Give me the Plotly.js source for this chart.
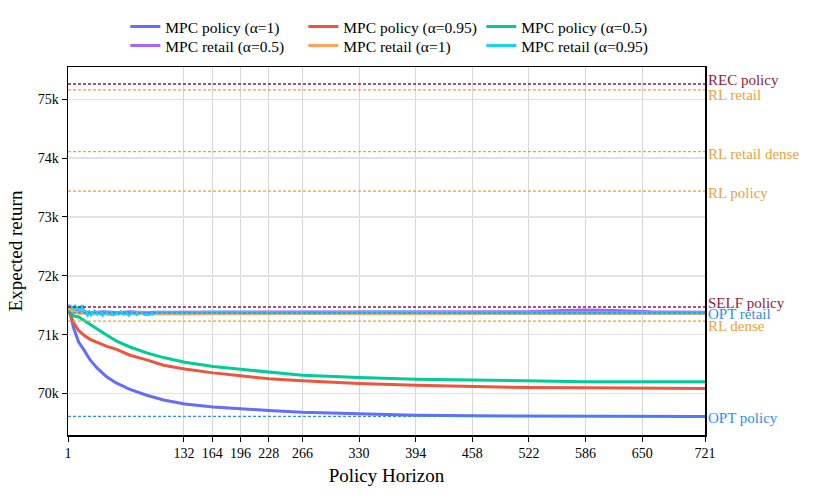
<!DOCTYPE html>
<html>
<head>
<meta charset="utf-8">
<script src="https://cdn.plot.ly/plotly-3.0.1.min.js"></script>
<style>
  html, body { margin: 0; padding: 0; background: #fff; }
  #chart { width: 817px; height: 504px; }
</style>
</head>
<body>
<div id="chart"></div>
<script>
// ---------- data ----------
const xTicks = [1, 132, 164, 196, 228, 266, 330, 394, 458, 522, 586, 650, 721];

// MPC policy curves share one horizon grid
const policyX = [1, 4, 7, 13, 19, 26, 34, 45, 56, 71, 90, 109, 133, 165, 196, 210, 228, 266, 330, 394, 458, 522, 586, 650, 721];
const policyA1 = [71450, 71330, 71130, 70875, 70740, 70570, 70430, 70280, 70175, 70070, 69970, 69890, 69820, 69770, 69740, 69725, 69710, 69680, 69650, 69630, 69620, 69615, 69610, 69610, 69610];
const policyA095 = [71450, 71330, 71210, 71070, 70990, 70920, 70865, 70800, 70750, 70650, 70570, 70480, 70415, 70350, 70300, 70280, 70250, 70215, 70170, 70140, 70120, 70100, 70095, 70090, 70085];
const policyA05 = [71450, 71380, 71320, 71300, 71240, 71170, 71100, 70990, 70890, 70790, 70690, 70610, 70530, 70460, 70410, 70390, 70360, 70310, 70270, 70240, 70230, 70215, 70200, 70200, 70200];

// MPC retail curves
const retailX = [1, 5, 10, 15, 20, 30, 40, 50, 60, 70, 80, 90, 100, 130, 170, 220, 280, 350, 420, 480, 520, 560, 586, 620, 660, 721];
const retailA05 = [71470, 71420, 71400, 71380, 71390, 71370, 71390, 71380, 71370, 71390, 71380, 71370, 71380, 71380, 71380, 71390, 71390, 71385, 71380, 71380, 71390, 71410, 71420, 71410, 71390, 71380];
const retailA1 = [71460, 71410, 71380, 71360, 71370, 71350, 71360, 71340, 71360, 71350, 71370, 71340, 71360, 71350, 71360, 71360, 71360, 71365, 71360, 71365, 71360, 71360, 71365, 71360, 71360, 71360];

const retail095X = [1, 3, 5, 7, 9, 11, 13, 15, 17, 19, 21, 23, 25, 27, 29, 31, 34, 37, 40, 43, 46, 49, 52, 55, 58, 61, 64, 67, 70, 73, 76, 79, 82, 85, 88, 91, 94, 97, 100, 130, 170, 220, 280, 350, 420, 500, 586, 650, 721];
const retailA095 = [71500, 71490, 71470, 71450, 71480, 71440, 71460, 71420, 71500, 71400, 71360, 71330, 71380, 71340, 71370, 71400, 71350, 71380, 71330, 71390, 71360, 71380, 71340, 71370, 71350, 71390, 71350, 71370, 71330, 71380, 71360, 71340, 71370, 71380, 71350, 71340, 71370, 71350, 71380, 71370, 71380, 71370, 71370, 71380, 71370, 71370, 71370, 71370, 71370];

// horizontal reference results
const refNames = ["REC policy", "RL retail", "RL retail dense", "RL policy", "SELF policy", "OPT retail", "RL dense", "OPT policy"];
const refValues = [75260, 75160, 74110, 73440, 71470, 71370, 71230, 69610];

// ---------- styles ----------
const FONT = "Liberation Serif, Times New Roman, serif";
const MAROON = "#8d1c40", ORANGE = "#eba23a", OPTBLUE = "#2f8cf2";
const refColors = [MAROON, ORANGE, ORANGE, ORANGE, MAROON, OPTBLUE, ORANGE, OPTBLUE];
const labelShift = [4, -5, -2, -2, 4, -1, -5, -2];

// first row of the legend holds the policy runs, second row the retail runs
const curve = (name, x, y, color, legend) => ({
  type: "scatter", mode: "lines", name, x, y, legend,
  line: { color, width: 3 },
  hoverinfo: "skip"
});

const traces = [
  curve("MPC policy (α=1)", policyX, policyA1, "#636efa", "legend"),
  curve("MPC policy (α=0.95)", policyX, policyA095, "#ef553b", "legend"),
  curve("MPC policy (α=0.5)", policyX, policyA05, "#00cc96", "legend"),
  curve("MPC retail (α=0.5)", retailX, retailA05, "#ab63fa", "legend2"),
  curve("MPC retail (α=1)", retailX, retailA1, "#ffa15a", "legend2"),
  curve("MPC retail (α=0.95)", retail095X, retailA095, "#19d3f3", "legend2")
];

// dashed reference lines across the full horizon
refValues.forEach((v, i) => {
  traces.push({
    type: "scatter", mode: "lines", showlegend: false, hoverinfo: "skip",
    x: [xTicks[0], xTicks[xTicks.length - 1]], y: [v, v],
    line: { color: refColors[i], width: 1.3, dash: "3px,2px" }
  });
});

const annotations = refNames.map((name, i) => ({
  xref: "paper", yref: "y", x: 1, y: refValues[i],
  xanchor: "left", yanchor: "middle", xshift: 1, yshift: labelShift[i],
  text: name, showarrow: false,
  font: { family: FONT, size: 15, color: refColors[i] }
}));

const legendRow = (y) => ({
  orientation: "h", x: 0.09, xanchor: "left", y, yanchor: "middle",
  entrywidth: 133, font: { family: FONT, size: 15.5 },
  bgcolor: "rgba(0,0,0,0)", borderwidth: 0
});

const layout = {
  width: 817, height: 504,
  margin: { l: 68, r: 112, t: 67, b: 69, autoexpand: false },
  paper_bgcolor: "#fff", plot_bgcolor: "#fff",
  font: { family: FONT, size: 14, color: "#000" },
  showlegend: true,
  legend: legendRow(1.109),
  legend2: legendRow(1.057),
  xaxis: {
    range: [1, 721], tickmode: "array", tickvals: xTicks,
    showgrid: true, gridcolor: "#d6d6d6", gridwidth: 1,
    zeroline: false, showline: true, linecolor: "#000", linewidth: 1.5, mirror: true,
    ticks: "outside", ticklen: 5, tickcolor: "#000",
    tickfont: { family: FONT, size: 14 },
    title: { text: "Policy Horizon", font: { family: FONT, size: 19 }, standoff: 8 }
  },
  yaxis: {
    range: [69294, 75549], dtick: 1000, tick0: 70000, tickformat: "~s",
    showgrid: true, gridcolor: "#e2e2e2", gridwidth: 1.5,
    zeroline: false, showline: true, linecolor: "#000", linewidth: 1.5, mirror: true,
    ticks: "outside", ticklen: 5, tickcolor: "#000",
    tickfont: { family: FONT, size: 14 },
    title: { text: "Expected return", font: { family: FONT, size: 19 }, standoff: 10 }
  },
  annotations
};

Plotly.newPlot("chart", traces, layout, { displayModeBar: false, staticPlot: true });
</script>
</body>
</html>
